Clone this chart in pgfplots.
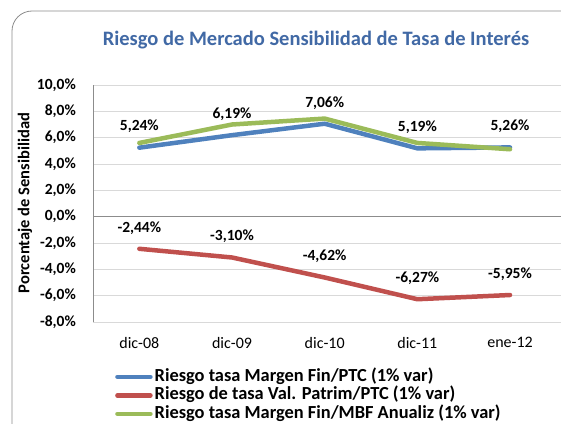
\documentclass[border=0pt]{standalone}
\usepackage{pgfplots}
\pgfplotsset{compat=1.18}
\usepackage{fontspec}
\setmainfont{Carlito}
\definecolor{cblue}{HTML}{4F81BD}
\definecolor{cred}{HTML}{C0504D}
\definecolor{cgreen}{HTML}{9BBB59}
\definecolor{ctitle}{RGB}{65,105,165}
\definecolor{cgrid}{HTML}{D9D9D9}
\definecolor{czero}{HTML}{8C8C8C}
\begin{document}
\begin{tikzpicture}
\path[use as bounding box] (0pt,0pt) rectangle (561pt,-423pt);
\clip (0pt,0pt) rectangle (561pt,-423pt);
\draw[czero, line width=0.8pt, rounded corners=20pt] (12pt,-11pt) rectangle (600pt,-470pt);
\node[font=\fontsize{20.5}{24}\selectfont\bfseries, text=ctitle] at (316pt,-40pt) {Riesgo de Mercado Sensibilidad de Tasa de Interés};
\node[rotate=90, font=\fontsize{16.5}{19}\selectfont\bfseries] at (25pt,-203pt) {Porcentaje de Sensibilidad};
\begin{axis}[
  at={(93pt,-322pt)}, anchor=south west,
  scale only axis, width=468pt, height=237pt,
  xmin=-0.5, xmax=4.55, ymin=-8, ymax=10,
  axis line style={draw=none},
  major tick length=0pt,
  xtick={0,1,2,3,4},
  xticklabels={dic-08,dic-09,dic-10,dic-11,ene-12},
  ytick={-8,-6,-4,-2,0,2,4,6,8,10},
  yticklabels={{-8,0\%},{-6,0\%},{-4,0\%},{-2,0\%},{0,0\%},{2,0\%},{4,0\%},{6,0\%},{8,0\%},{10,0\%}},
  /pgf/number format/assume math mode=true,
  ymajorgrids, grid style={cgrid, line width=0.8pt},
  yticklabel style={font=\fontsize{15.5}{18}\selectfont\bfseries, anchor=east, inner sep=0pt, xshift=-17pt},
  xticklabel style={font=\fontsize{16}{19}\selectfont, anchor=north, inner sep=0pt, yshift=-15pt},
  legend style={at={(rel axis cs:0.047,-0.195)}, anchor=north west, draw=none, fill=none, inner sep=0pt,
    row sep=1.5pt, font=\fontsize{18.4}{21}\selectfont\bfseries,
    nodes={inner sep=0pt, text height=13pt, text depth=4pt}},
  legend cell align=left,
  legend image code/.code={\draw[#1, line width=4.5pt, line cap=round] (2.5pt,0pt) -- (35.5pt,0pt);},
  /tikz/every odd column/.append style={column sep=2pt},
  clip=false,
  every node near coord/.append style={font=\fontsize{15.5}{18}\selectfont\bfseries, anchor=center, yshift=21pt, text=black},
]
\draw[czero, line width=0.8pt] (rel axis cs:0,0) -- (rel axis cs:0,1);
\draw[czero, line width=0.8pt] (axis cs:-0.5,0) -- (axis cs:4.55,0);
\addplot[cblue, line width=4.5pt, line join=round, line cap=round,
  point meta=explicit symbolic, nodes near coords] coordinates {
  (0,5.24) [{5,24\%}]
  (1,6.19) [{6,19\%}]
  (2,7.06) [{7,06\%}]
  (3,5.19) [{5,19\%}]
  (4,5.26) [{5,26\%}]
};
\addlegendentry{Riesgo tasa Margen Fin/PTC (1\% var)}
\addplot[cred, line width=4.5pt, line join=round, line cap=round,
  point meta=explicit symbolic, nodes near coords] coordinates {
  (0,-2.44) [{-2,44\%}]
  (1,-3.10) [{-3,10\%}]
  (2,-4.62) [{-4,62\%}]
  (3,-6.27) [{-6,27\%}]
  (4,-5.95) [{-5,95\%}]
};
\addlegendentry{Riesgo de tasa Val. Patrim/PTC (1\% var)}
\addplot[cgreen, line width=4.5pt, line join=round, line cap=round] coordinates {
  (0,5.60) (1,7.00) (2,7.45) (3,5.60) (4,5.12)
};
\addlegendentry{Riesgo tasa Margen Fin/MBF Anualiz (1\% var)}
\end{axis}
\end{tikzpicture}
\end{document}
